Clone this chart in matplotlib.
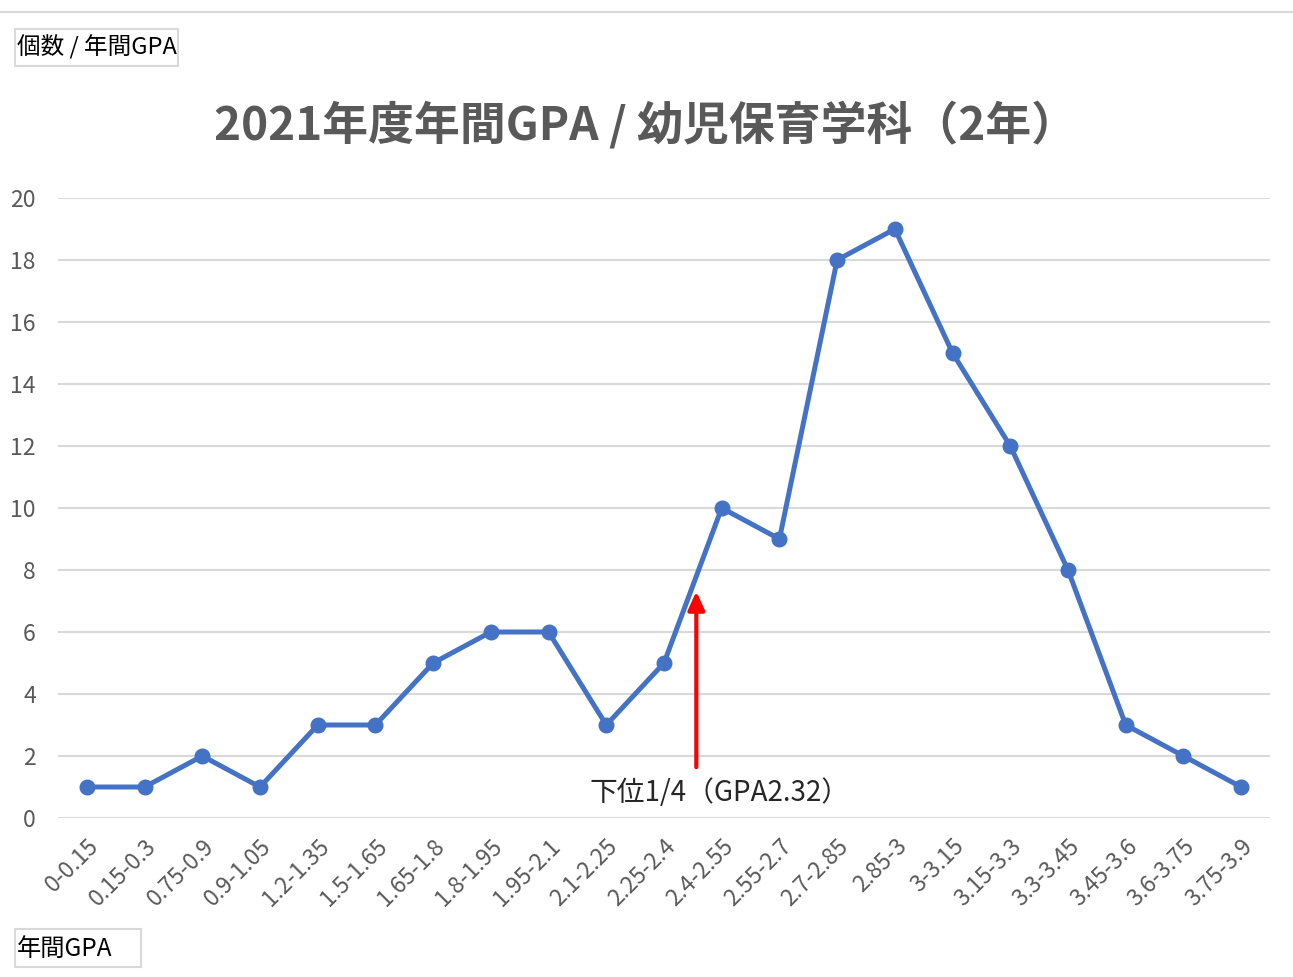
import matplotlib
matplotlib.use("Agg")
import matplotlib.pyplot as plt
from matplotlib.patches import Rectangle
from matplotlib.lines import Line2D

plt.rcParams['font.family'] = ['Noto Sans CJK JP', 'DejaVu Sans']

# GPA bins and counts
categories = ["0-0.15", "0.15-0.3", "0.75-0.9", "0.9-1.05", "1.2-1.35", "1.5-1.65",
              "1.65-1.8", "1.8-1.95", "1.95-2.1", "2.1-2.25", "2.25-2.4", "2.4-2.55",
              "2.55-2.7", "2.7-2.85", "2.85-3", "3-3.15", "3.15-3.3", "3.3-3.45",
              "3.45-3.6", "3.6-3.75", "3.75-3.9"]
counts = [1, 1, 2, 1, 3, 3, 5, 6, 6, 3, 5, 10, 9, 18, 19, 15, 12, 8, 3, 2, 1]
y_ticks = [0, 2, 4, 6, 8, 10, 12, 14, 16, 18, 20]

# lower quartile marker
quartile_x = 10.56
quartile_label = "下位1/4（GPA2.32）"

fig = plt.figure(figsize=(12.93, 9.77), dpi=100)
ax = fig.add_axes([58 / 1293, 1 - 818 / 977, (1270 - 58) / 1293, (818 - 198) / 977])

x = list(range(len(categories)))
ax.plot(x, counts, color="#4472C4", linewidth=3.6, marker="o", markersize=10.5,
        solid_joinstyle="round", zorder=3)

ax.set_xlim(-0.5, len(categories) - 0.5)
ax.set_ylim(0, 20)
ax.set_yticks(y_ticks)
ax.set_xticks(x)
ax.set_xticklabels(categories, rotation=45, ha="right", rotation_mode="anchor",
                   fontsize=16.5, color="#595959")
ax.tick_params(axis="y", labelsize=16.5, labelcolor="#595959", length=0, pad=16)
ax.tick_params(axis="x", length=0, pad=12)
ax.grid(axis="y", color="#D9D9D9", linewidth=1.5)
ax.set_axisbelow(True)
for s in ax.spines.values():
    s.set_visible(False)

# arrow and label for lower quartile
ax.annotate("", xy=(quartile_x, 7.4), xytext=(quartile_x, 1.55),
            arrowprops=dict(arrowstyle="-|>,head_width=0.5,head_length=1.1",
                            color="#FF0000", lw=3), zorder=4)
ax.text(quartile_x + 0.4, 0.8, quartile_label, ha="center", va="center",
        fontsize=20, color="#262626")

fig.suptitle("2021年度年間GPA / 幼児保育学科（2年）", x=646 / 1293, y=1 - 126 / 977,
             va="center", fontsize=33, fontweight="bold", color="#595959")

# top border line
fig.add_artist(Line2D([0, 1], [1 - 12 / 977, 1 - 12 / 977], color="#D9D9D9", linewidth=1.5))

# axis title boxes
fig.text(17 / 1293, 1 - 47 / 977, "個数 / 年間GPA", ha="left", va="center", fontsize=17,
         color="#000000")
fig.add_artist(Rectangle((15 / 1293, 1 - 66 / 977), 163 / 1293, 37 / 977, fill=False,
                         edgecolor="#D9D9D9", linewidth=1.5, transform=fig.transFigure))
fig.text(17 / 1293, 1 - 949 / 977, "年間GPA", ha="left", va="center", fontsize=17.5,
         color="#000000")
fig.add_artist(Rectangle((15 / 1293, 1 - 967 / 977), 126 / 1293, 38 / 977, fill=False,
                         edgecolor="#D9D9D9", linewidth=1.5, transform=fig.transFigure))

fig.savefig("out.png", dpi=100)
